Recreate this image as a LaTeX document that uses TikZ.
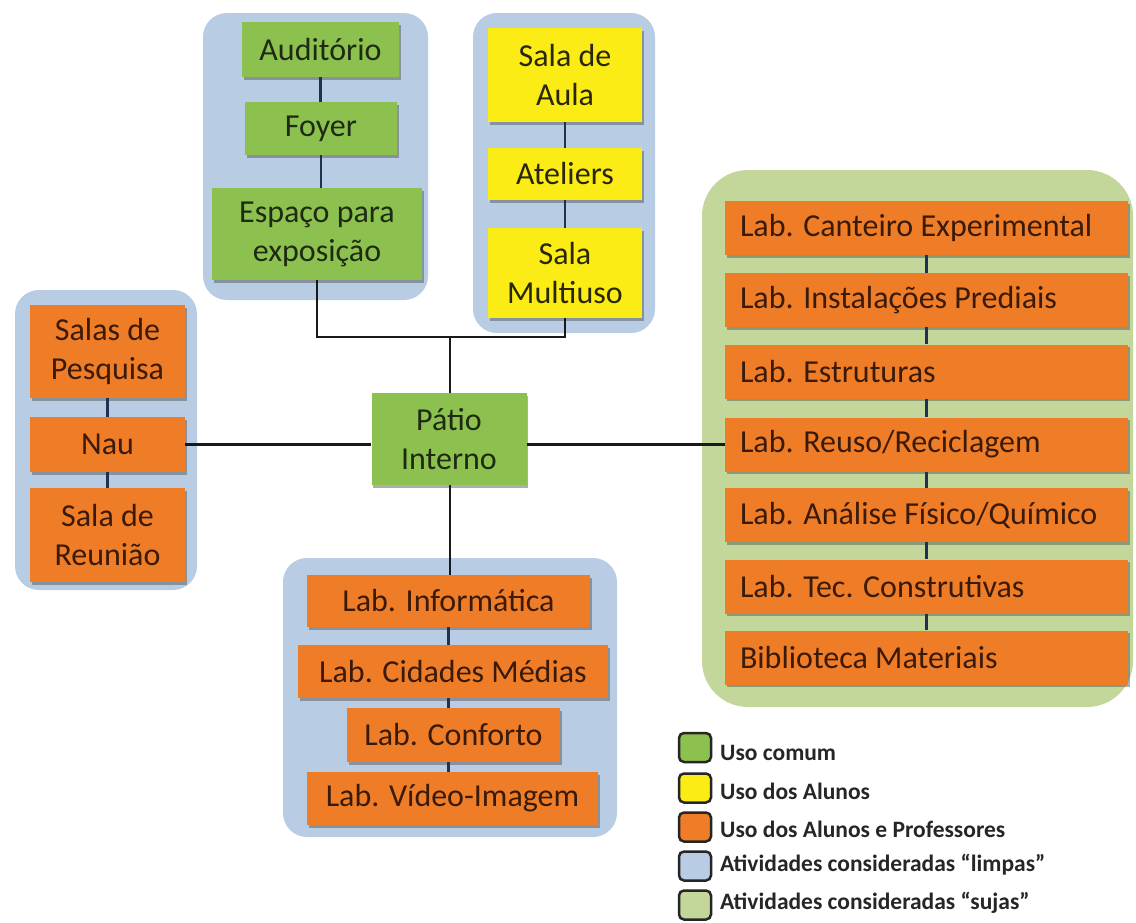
\documentclass[tikz,border=0pt]{standalone}
\usepackage{fontspec}
\setmainfont{Carlito}
\usetikzlibrary{shadows,calc}
\definecolor{gbox}{HTML}{8DC14F}
\definecolor{ybox}{HTML}{FAEC14}
\definecolor{obox}{HTML}{EF7D28}
\definecolor{blueg}{HTML}{B8CCE4}
\definecolor{greeng}{HTML}{C4D79B}
\definecolor{navy}{HTML}{1F3050}
\definecolor{gtext}{HTML}{1E2A12}
\definecolor{otext}{HTML}{3A1A08}
\definecolor{ytext}{HTML}{2A2608}
\newcommand{\lefttxt}[1]{\makebox[373pt][l]{#1}}
\begin{document}
\begin{tikzpicture}[x=1pt,y=-1pt,
  box/.style={draw=none, inner sep=0pt, align=center,
    font=\fontsize{32}{39}\selectfont,
    drop shadow={shadow xshift=1.5pt, shadow yshift=-2.5pt, opacity=0.45, fill=black!70}},
  gb/.style={box, fill=gbox, text=gtext},
  yb/.style={box, fill=ybox, text=ytext},
  ob/.style={box, fill=obox, text=otext},
  lb/.style={ob, minimum width=403pt, minimum height=54pt, inner xsep=15pt},
  inl/.style={draw=navy, line width=2.5pt},
  mainline/.style={draw=black!90, line width=2.5pt},
  grpblue/.style={fill=blueg, rounded corners=24pt},
  grpgreen/.style={fill=greeng, rounded corners=46pt},
  legsq/.style={draw=black!85, line width=2.5pt, rounded corners=5pt, minimum width=32pt, minimum height=29pt, inner sep=0pt},
  legtxt/.style={anchor=base west, font=\fontsize{23.5}{28}\selectfont\bfseries, text=black!85, inner sep=0pt}
]
\useasboundingbox (0,0) rectangle (1136,922);
\fill[white] (0,0) rectangle (1136,922);

% group backgrounds
\fill[grpblue] (203,13) rectangle (428,300);
\fill[grpblue] (473,13) rectangle (655,333);
\fill[grpblue] (15,290) rectangle (197,590);
\fill[grpblue] (283,558) rectangle (617,837);
\fill[grpgreen] (702,170) rectangle (1133,707);

% top-left group
\node[gb, minimum width=157pt, minimum height=55pt] (aud) at (320.5,49.5) {Auditório};
\node[gb, minimum width=152pt, minimum height=53pt] (foy) at (321,128.5) {Foyer};
\node[gb, minimum width=210pt, minimum height=92pt] (esp) at (317,234) {Espaço para\\exposição};

% top-right group
\node[yb, minimum width=154pt, minimum height=94pt] (aula) at (565,75) {Sala de\\Aula};
\node[yb, minimum width=154pt, minimum height=52pt] (atel) at (565,174) {Ateliers};
\node[yb, minimum width=154pt, minimum height=90pt] (multi) at (565,273) {Sala\\Multiuso};

% centre
\node[gb, minimum width=155pt, minimum height=92pt] (pat) at (449,439) {Pátio\\Interno};

% left group
\node[ob, minimum width=155pt, minimum height=93pt] (pesq) at (107.5,351.5) {Salas de\\Pesquisa};
\node[ob, minimum width=155pt, minimum height=55pt] (nau) at (107.5,444.5) {Nau};
\node[ob, minimum width=155pt, minimum height=94pt] (reun) at (107.5,535) {Sala de\\Reunião};

% bottom group
\node[ob, minimum width=283pt, minimum height=52pt] (info) at (448.5,601) {Lab. Informática};
\node[ob, minimum width=310pt, minimum height=53pt] (cid) at (453,671.5) {Lab. Cidades Médias};
\node[ob, minimum width=213pt, minimum height=54pt] (conf) at (453.5,735) {Lab. Conforto};
\node[ob, minimum width=291pt, minimum height=53pt] (video) at (452.5,798.5) {Lab. Vídeo-Imagem};

% right group
\node[lb] (cant) at (926.5,228) {\lefttxt{Lab. Canteiro Experimental}};
\node[lb] (inst) at (926.5,300) {\lefttxt{Lab. Instalações Prediais}};
\node[lb] (estr) at (926.5,371.5) {\lefttxt{Lab. Estruturas}};
\node[lb] (reuso) at (926.5,444.5) {\lefttxt{Lab. Reuso/Reciclagem}};
\node[lb] (anal) at (926.5,515) {\lefttxt{Lab. Análise Físico/Químico}};
\node[lb] (tec) at (926.5,586.5) {\lefttxt{Lab. Tec. Construtivas}};
\node[lb] (bib) at (926.5,657.5) {\lefttxt{Biblioteca Materiais}};

% in-group connectors
\draw[inl] (aud.south) -- (aud.south |- foy.north);
\draw[inl] (foy.south) -- (foy.south |- esp.north);
\draw[inl] (aula.south) -- (atel.north);
\draw[inl] (atel.south) -- (multi.north);
\draw[inl] (pesq.south) -- (nau.north);
\draw[inl] (nau.south) -- (reun.north);
\draw[inl] (info.south) -- (info.south |- cid.north);
\draw[inl] (info.south |- cid.south) -- (info.south |- conf.north);
\draw[inl] (info.south |- conf.south) -- (info.south |- video.north);
\draw[inl] (cant.south) -- (inst.north);
\draw[inl] (inst.south) -- (estr.north);
\draw[inl] (estr.south) -- (reuso.north);
\draw[inl] (reuso.south) -- (anal.north);
\draw[inl] (anal.south) -- (tec.north);
\draw[inl] (tec.south) -- (bib.north);

% main connectors
\coordinate (j) at (450,337);
\draw[mainline] (esp.south) |- (j) -| (multi.south);
\draw[mainline] (j) -- (j |- pat.north);
\draw[mainline] (nau.east) -- (nau.east -| pat.west);
\draw[mainline] (pat.east |- reuso.west) -- (reuso.west);
\draw[mainline] (j |- pat.south) -- (j |- info.north);

% legend
\node[legsq, fill=gbox] (l1) at (695,747.5) {};
\node[legsq, fill=ybox] (l2) at (695,788) {};
\node[legsq, fill=obox] (l3) at (695,827) {};
\node[legsq, fill=blueg] (l4) at (695,866) {};
\node[legsq, fill=greeng] (l5) at (695,905) {};
\node[legtxt] (t1) at (720,760) {Uso comum};
\node[legtxt] (t2) at (720,799) {Uso dos Alunos};
\node[legtxt] (t3) at (720,837) {Uso dos Alunos e Professores};
\node[legtxt] (t4) at (720,871) {Atividades consideradas “limpas”};
\node[legtxt] (t5) at (720,909) {Atividades consideradas “sujas”};
\end{tikzpicture}
\end{document}
